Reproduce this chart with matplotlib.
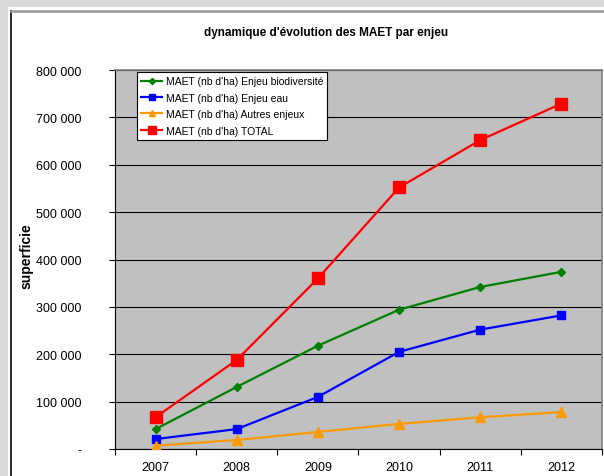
import matplotlib.pyplot as plt
from matplotlib.lines import Line2D
from matplotlib.patches import Rectangle
from matplotlib.ticker import FixedLocator, FuncFormatter

plt.rcParams['font.family'] = ['Liberation Sans', 'DejaVu Sans']

years = ['2007', '2008', '2009', '2010', '2011', '2012']
biodiv = [42000, 131000, 218000, 294000, 342000, 374000]
eau = [21000, 42000, 110000, 205000, 252000, 282000]
autres = [7000, 19000, 36000, 53000, 67000, 78000]
total = [67000, 188000, 360000, 552000, 652000, 729000]

labels = ["MAET (nb d'ha) Enjeu biodiversité",
          "MAET (nb d'ha) Enjeu eau",
          "MAET (nb d'ha) Autres enjeux",
          "MAET (nb d'ha) TOTAL"]

fig = plt.figure(figsize=(6.04, 4.77), dpi=100)
fig.patch.set_facecolor('#d9d9d9')

# white chart area with its frame
fig.add_artist(Rectangle((8 / 604, 0), 1, 1 - 8 / 477, transform=fig.transFigure,
                         facecolor='white', edgecolor='none', zorder=0))
fig.add_artist(Line2D([11 / 604, 11 / 604], [0, 1 - 12 / 477], transform=fig.transFigure,
                      color='#333333', lw=1.5))
fig.add_artist(Line2D([11 / 604, 1], [1 - 12 / 477, 1 - 12 / 477], transform=fig.transFigure,
                      color='#999999', lw=1.8))

ax = fig.add_axes([115 / 604, 1 - 450 / 477, 487 / 604, 379 / 477])
ax.set_facecolor('#c0c0c0')

x = range(len(years))
ax.plot(x, biodiv, color='#008000', lw=1.6, marker='D', ms=4.5, label=labels[0], zorder=3)
ax.plot(x, eau, color='#0000ff', lw=1.6, marker='s', ms=6, label=labels[1], zorder=3)
ax.plot(x, autres, color='#ff9900', lw=1.6, marker='^', ms=7, label=labels[2], zorder=3)
ax.plot(x, total, color='#ff0000', lw=1.6, marker='s', ms=8.5, label=labels[3], zorder=3)

ax.set_xlim(-0.5, len(years) - 0.5)
ax.set_ylim(0, 800000)
ax.set_yticks(range(0, 800001, 100000))
ax.yaxis.set_major_formatter(FuncFormatter(
    lambda v, p: '-' if v == 0 else '{:,.0f}'.format(v).replace(',', ' ')))
ax.grid(axis='y', color='black', lw=0.8)
ax.set_axisbelow(True)

ax.set_xticks(list(x))
ax.set_xticklabels(years)
ax.xaxis.set_minor_locator(FixedLocator([i - 0.5 for i in range(len(years) + 1)]))
ax.tick_params(axis='x', which='major', length=0, pad=9, labelsize=9)
ax.tick_params(axis='x', which='minor', length=4, width=0.8)
ax.tick_params(axis='y', length=4, width=0.8, pad=20, labelsize=9)

for s in ['left', 'bottom']:
    ax.spines[s].set_color('black')
    ax.spines[s].set_linewidth(0.8)
for s in ['top', 'right']:
    ax.spines[s].set_color('#808080')
    ax.spines[s].set_linewidth(1.2)

fig.text(326 / 604, 1 - 33 / 477, "dynamique d'évolution des MAET par enjeu",
         ha='center', va='center', fontsize=8.5, fontweight='bold')
fig.text(27 / 604, 1 - 289 / 477, 'superficie', rotation=90,
         ha='center', va='bottom', fontsize=10, fontweight='bold')

leg = ax.legend(loc='upper left', bbox_to_anchor=(22 / 487, 377 / 379), fontsize=7.5,
                frameon=True, fancybox=False, shadow=False, borderpad=0.4,
                labelspacing=0.62, handlelength=2.0, handletextpad=0.35,
                markerscale=0.7, borderaxespad=0)
leg.get_frame().set_edgecolor('black')
leg.get_frame().set_linewidth(0.8)
leg.get_frame().set_alpha(1)

plt.savefig('out.png', dpi=100, facecolor=fig.get_facecolor())
